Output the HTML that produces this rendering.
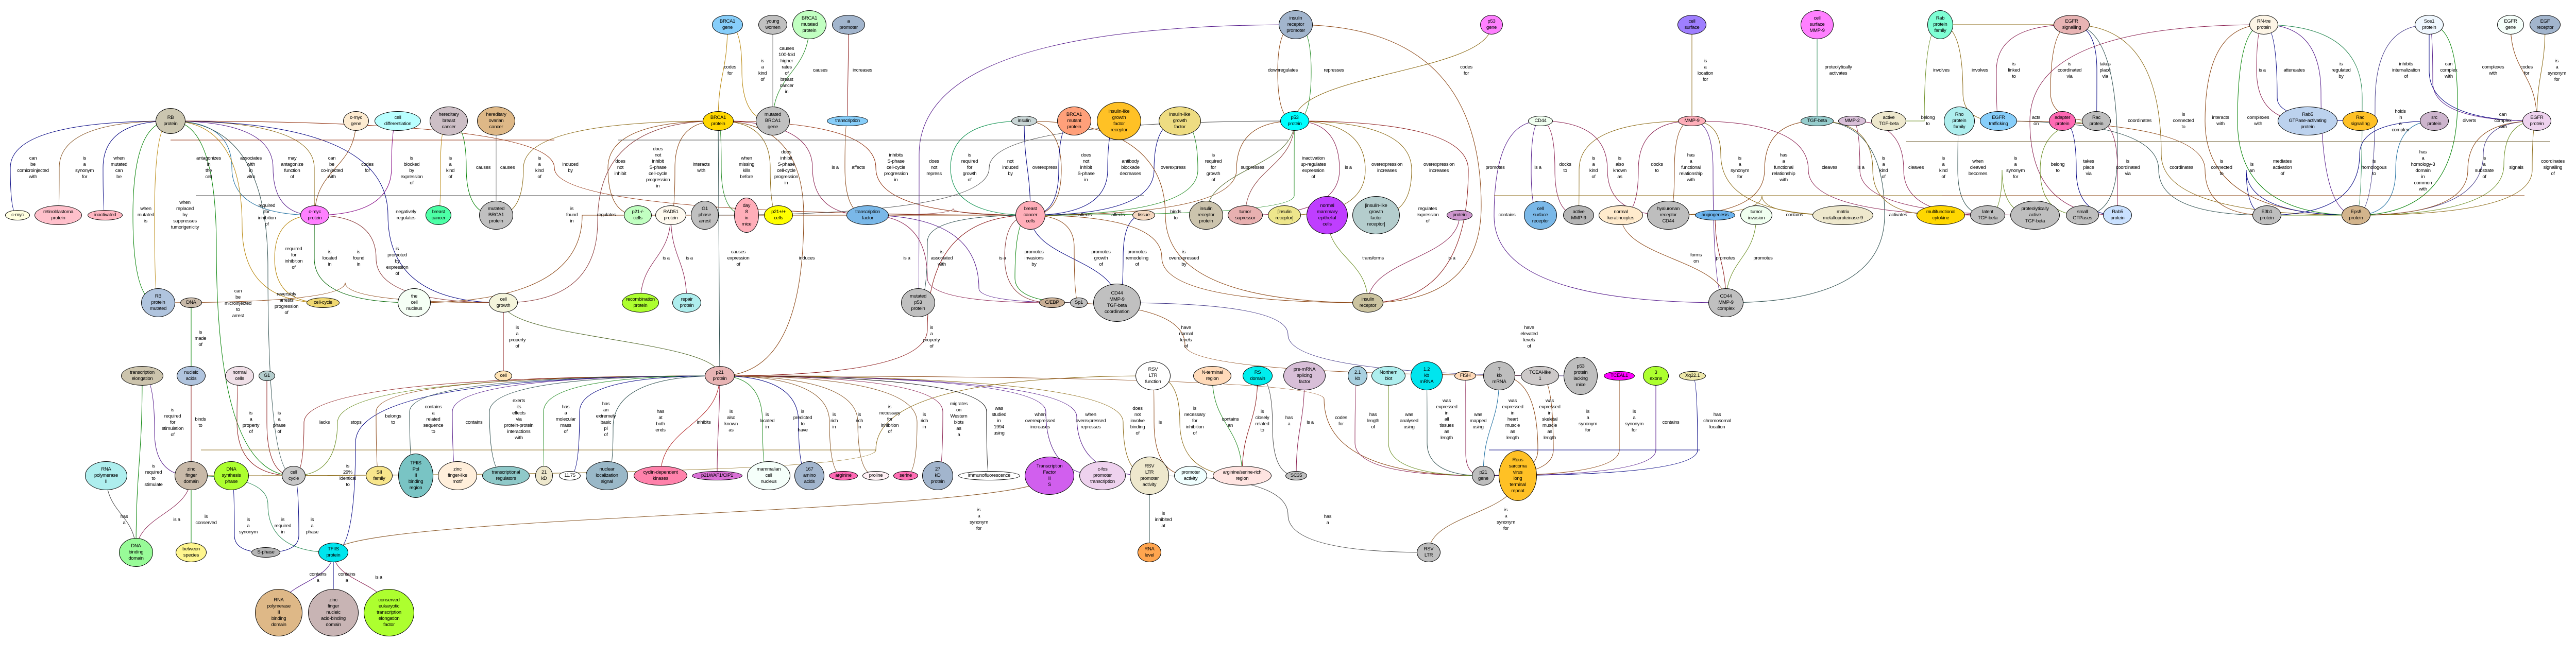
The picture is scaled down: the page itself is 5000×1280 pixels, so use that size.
<!DOCTYPE html>
<html><head><meta charset="utf-8"><style>
body{margin:0;background:#fff;width:5000px;height:1280px;overflow:hidden;position:relative;font-family:"Liberation Sans",Arial,sans-serif}
svg{position:absolute;left:0;top:0}
.n{position:absolute;left:calc(var(--x)*1px - var(--w)*1px);top:calc(var(--y)*1px - var(--h)*1px);width:calc(var(--w)*2px);height:calc(var(--h)*2px);border:1px solid #000;border-radius:50%;box-sizing:border-box;display:flex;align-items:center;justify-content:center;text-align:center;font-size:9.5px;line-height:12px;letter-spacing:-0.3px;color:#000}
.l{position:absolute;transform:translate(-50%,-50%);text-align:center;font-size:9.5px;line-height:12px;letter-spacing:-0.3px;white-space:nowrap;color:#000}
</style></head><body>
<svg id="sv" width="5000" height="1280"></svg>

<div class="n" id="rb" style="--x:331;--y:235;--w:29;--h:25;background:#cbc6b0">RB<br>protein</div>
<div class="n" id="cmycgene" style="--x:691;--y:235;--w:25;--h:19;background:#fdebd0">c-myc<br>gene</div>
<div class="n" id="celldiff" style="--x:772;--y:235;--w:45;--h:19;background:#b9ffff">cell<br>differentiation</div>
<div class="n" id="hbc" style="--x:871;--y:235;--w:37;--h:28;background:#cdbfc6">hereditary<br>breast<br>cancer</div>
<div class="n" id="hoc" style="--x:963;--y:235;--w:37;--h:28;background:#deb887">hereditary<br>ovarian<br>cancer</div>
<div class="n" id="cmyc" style="--x:34;--y:418;--w:24;--h:10;background:#ffffe0">c-myc</div>
<div class="n" id="retino" style="--x:113;--y:418;--w:46;--h:19;background:#ffc0cb">retinoblastoma<br>protein</div>
<div class="n" id="inact" style="--x:204;--y:418;--w:34;--h:10;background:#ffb6c1">inactivated</div>
<div class="n" id="cmycp" style="--x:611;--y:418;--w:28;--h:19;background:#ff80ff">c-myc<br>protein</div>
<div class="n" id="bc" style="--x:851;--y:418;--w:25;--h:19;background:#4dffa6">breast<br>cancer</div>
<div class="n" id="mbrca1p" style="--x:963;--y:418;--w:33;--h:28;background:#c0c0c0">mutated<br>BRCA1<br>protein</div>
<div class="n" id="p21cells" style="--x:1238;--y:418;--w:27;--h:19;background:#c1ffc1">p21-/-<br>cells</div>
<div class="n" id="rbm" style="--x:307;--y:588;--w:33;--h:28;background:#b0c4de">RB<br>protein<br>mutated</div>
<div class="n" id="dna" style="--x:371;--y:588;--w:21;--h:10;background:#c8b9a8">DNA</div>
<div class="n" id="cellcyc1" style="--x:627;--y:588;--w:32;--h:10;background:#f0d870">cell-cycle</div>
<div class="n" id="nucleus" style="--x:804;--y:588;--w:32;--h:28;background:#f5fff5">the<br>cell<br>nucleus</div>
<div class="n" id="cellgrowth" style="--x:977;--y:588;--w:28;--h:19;background:#f5f5dc">cell<br>growth</div>
<div class="n" id="recomb" style="--x:1243;--y:588;--w:36;--h:19;background:#adff2f">recombination<br>protein</div>
<div class="n" id="brca1gene" style="--x:1412;--y:48;--w:30;--h:19;background:#87cefa">BRCA1<br>gene</div>
<div class="n" id="youngw" style="--x:1500;--y:48;--w:28;--h:19;background:#c0c0c0">young<br>women</div>
<div class="n" id="brca1mp" style="--x:1571;--y:48;--w:33;--h:28;background:#c1ffc1">BRCA1<br>mutated<br>protein</div>
<div class="n" id="promoter" style="--x:1647;--y:48;--w:32;--h:19;background:#a2b5cd">a<br>promoter</div>
<div class="n" id="brca1p" style="--x:1394;--y:235;--w:30;--h:19;background:#ffd700">BRCA1<br>protein</div>
<div class="n" id="mbrca1g" style="--x:1500;--y:235;--w:33;--h:28;background:#c0c0c0">mutated<br>BRCA1<br>gene</div>
<div class="n" id="transcription" style="--x:1645;--y:235;--w:40;--h:10;background:#87cefa">transcription</div>
<div class="n" id="insulin" style="--x:1988;--y:235;--w:25;--h:10;background:#c9d6d6">insulin</div>
<div class="n" id="brca1mut" style="--x:2085;--y:235;--w:33;--h:28;background:#ffa07a">BRCA1<br>mutant<br>protein</div>
<div class="n" id="igfr" style="--x:2172;--y:235;--w:43;--h:37;background:#ffc125">insulin-like<br>growth<br>factor<br>receptor</div>
<div class="n" id="igf" style="--x:2290;--y:235;--w:41;--h:28;background:#eedc82">insulin-like<br>growth<br>factor</div>
<div class="n" id="p53p" style="--x:2513;--y:235;--w:28;--h:19;background:#00ffff">p53<br>protein</div>
<div class="n" id="irp" style="--x:2515;--y:48;--w:33;--h:28;background:#a2b5cd">insulin<br>receptor<br>promoter</div>
<div class="n" id="rad51" style="--x:1302;--y:418;--w:30;--h:19;background:#fffaf0">RAD51<br>protein</div>
<div class="n" id="g1arrest" style="--x:1368;--y:418;--w:27;--h:28;background:#c0c0c0">G1<br>phase<br>arrest</div>
<div class="n" id="day8" style="--x:1449;--y:418;--w:24;--h:34;background:#ffaeb9">day<br>8<br>in<br>mice</div>
<div class="n" id="p21pp" style="--x:1511;--y:418;--w:28;--h:19;background:#ffff00">p21+/+<br>cells</div>
<div class="n" id="tf" style="--x:1684;--y:418;--w:41;--h:19;background:#7ab8e8">transcription<br>factor</div>
<div class="n" id="bcc" style="--x:2000;--y:418;--w:29;--h:28;background:#ffaeb9">breast<br>cancer<br>cells</div>
<div class="n" id="tissue" style="--x:2220;--y:418;--w:22;--h:10;background:#f4d7c0">tissue</div>
<div class="n" id="irprot" style="--x:2341;--y:418;--w:33;--h:28;background:#ccc4ad">insulin<br>receptor<br>protein</div>
<div class="n" id="tumsup" style="--x:2417;--y:418;--w:34;--h:19;background:#e8b0b0">tumor<br>supressor</div>
<div class="n" id="insrec2" style="--x:2493;--y:418;--w:32;--h:19;background:#eee68c">[insulin<br>receptor]</div>
<div class="n" id="repair" style="--x:1333;--y:588;--w:28;--h:19;background:#aeeeee">repair<br>protein</div>
<div class="n" id="mp53" style="--x:1782;--y:588;--w:33;--h:28;background:#c0c0c0">mutated<br>p53<br>protein</div>
<div class="n" id="cebp" style="--x:2042;--y:588;--w:25;--h:10;background:#c8ae94">C/EBP</div>
<div class="n" id="sp1" style="--x:2094;--y:588;--w:17;--h:10;background:#c0c0c0">Sp1</div>
<div class="n" id="cd44coord" style="--x:2168;--y:588;--w:46;--h:37;background:#c0c0c0">CD44<br>MMP-9<br>TGF-beta<br>coordination</div>
<div class="n" id="p53gene" style="--x:2895;--y:48;--w:22;--h:19;background:#ff80ff">p53<br>gene</div>
<div class="n" id="cellsurf" style="--x:3284;--y:48;--w:28;--h:19;background:#9f7fff">cell<br>surface</div>
<div class="n" id="csmmp9" style="--x:3527;--y:48;--w:32;--h:28;background:#ff80ff">cell<br>surface<br>MMP-9</div>
<div class="n" id="rabfam" style="--x:3766;--y:48;--w:25;--h:28;background:#7fffd4">Rab<br>protein<br>family</div>
<div class="n" id="cd44" style="--x:2990;--y:235;--w:24;--h:10;background:#f0fff0">CD44</div>
<div class="n" id="mmp9" style="--x:3284;--y:235;--w:27;--h:10;background:#ffaeb9">MMP-9</div>
<div class="n" id="tgfb" style="--x:3527;--y:235;--w:32;--h:10;background:#96cdcd">TGF-beta</div>
<div class="n" id="mmp2" style="--x:3595;--y:235;--w:27;--h:10;background:#d8bfd8">MMP-2</div>
<div class="n" id="acttgf" style="--x:3666;--y:235;--w:34;--h:19;background:#eee8cd">active<br>TGF-beta</div>
<div class="n" id="nmec" style="--x:2576;--y:418;--w:40;--h:37;background:#bf3eff">normal<br>mammary<br>epithelial<br>cells</div>
<div class="n" id="igfr2" style="--x:2671;--y:418;--w:46;--h:37;background:#b4cdcd">[insulin-like<br>growth<br>factor<br>receptor]</div>
<div class="n" id="protein" style="--x:2833;--y:418;--w:25;--h:10;background:#cd96cd">protein</div>
<div class="n" id="csr" style="--x:2990;--y:418;--w:32;--h:28;background:#7ab8e8">cell<br>surface<br>receptor</div>
<div class="n" id="actmmp9" style="--x:3064;--y:418;--w:30;--h:19;background:#b5b5b5">active<br>MMP-9</div>
<div class="n" id="nk" style="--x:3146;--y:418;--w:43;--h:19;background:#ffebcd">normal<br>keratinocytes</div>
<div class="n" id="hrcd44" style="--x:3238;--y:418;--w:41;--h:28;background:#bebebe">hyaluronan<br>receptor<br>CD44</div>
<div class="n" id="angio" style="--x:3329;--y:418;--w:39;--h:10;background:#6cb4ee">angiogenesis</div>
<div class="n" id="tuminv" style="--x:3409;--y:418;--w:31;--h:19;background:#f0fff0">tumor<br>invasion</div>
<div class="n" id="mmp9full" style="--x:3577;--y:418;--w:59;--h:19;background:#eee8cd">matrix<br>metalloproteinase-9</div>
<div class="n" id="multicyt" style="--x:3767;--y:418;--w:47;--h:19;background:#ffd700">multifunctional<br>cytokine</div>
<div class="n" id="insrec" style="--x:2655;--y:588;--w:30;--h:19;background:#ccc4a0">insulin<br>receptor</div>
<div class="n" id="cd44cx" style="--x:3350;--y:588;--w:34;--h:28;background:#c0c0c0">CD44<br>MMP-9<br>complex</div>
<div class="n" id="egfrsig" style="--x:4021;--y:48;--w:35;--h:19;background:#e8b4b4">EGFR<br>signalling</div>
<div class="n" id="rntre" style="--x:4394;--y:48;--w:28;--h:19;background:#fdf5e6">RN-tre<br>protein</div>
<div class="n" id="sos1" style="--x:4715;--y:48;--w:28;--h:19;background:#f0f8ff">Sos1<br>protein</div>
<div class="n" id="egfrgene" style="--x:4873;--y:48;--w:26;--h:19;background:#f5fffa">EGFR<br>gene</div>
<div class="n" id="egfrec" style="--x:4940;--y:48;--w:30;--h:19;background:#a2b5cd">EGF<br>receptor</div>
<div class="n" id="rho" style="--x:3803;--y:235;--w:30;--h:28;background:#aeeeee">Rho<br>protein<br>family</div>
<div class="n" id="egfrtraf" style="--x:3879;--y:235;--w:36;--h:19;background:#87cefa">EGFR<br>trafficking</div>
<div class="n" id="adapter" style="--x:4003;--y:235;--w:26;--h:19;background:#ff69b4">adapter<br>protein</div>
<div class="n" id="rac" style="--x:4069;--y:235;--w:28;--h:19;background:#bebebe">Rac<br>protein</div>
<div class="n" id="rab5gap" style="--x:4479;--y:235;--w:58;--h:28;background:#bcd2ee">Rab5<br>GTPase-activating<br>protein</div>
<div class="n" id="racsig" style="--x:4581;--y:235;--w:34;--h:19;background:#ffc125">Rac<br>signalling</div>
<div class="n" id="src" style="--x:4725;--y:235;--w:28;--h:19;background:#cdb5cd">src<br>protein</div>
<div class="n" id="egfrp" style="--x:4924;--y:235;--w:28;--h:19;background:#eed2ee">EGFR<br>protein</div>
<div class="n" id="latent" style="--x:3858;--y:418;--w:34;--h:19;background:#bebebe">latent<br>TGF-beta</div>
<div class="n" id="proltgf" style="--x:3950;--y:418;--w:48;--h:28;background:#bebebe">proteolytically<br>active<br>TGF-beta</div>
<div class="n" id="smallg" style="--x:4042;--y:418;--w:32;--h:19;background:#bebebe">small<br>GTPases</div>
<div class="n" id="rab5" style="--x:4110;--y:418;--w:28;--h:19;background:#cae1ff">Rab5<br>protein</div>
<div class="n" id="e3b1" style="--x:4400;--y:418;--w:28;--h:19;background:#bebebe">E3b1<br>protein</div>
<div class="n" id="eps8" style="--x:4573;--y:418;--w:28;--h:19;background:#d2b48c">Eps8<br>protein</div>
<div class="n" id="cell" style="--x:977;--y:730;--w:17;--h:10;background:#ffe4b5">cell</div>
<div class="n" id="trel" style="--x:276;--y:730;--w:41;--h:19;background:#ccc4ad">transcription<br>elongation</div>
<div class="n" id="nucacid" style="--x:371;--y:730;--w:28;--h:19;background:#b0c4de">nucleic<br>acids</div>
<div class="n" id="normcells" style="--x:465;--y:730;--w:28;--h:19;background:#f0e0e8">normal<br>cells</div>
<div class="n" id="g1" style="--x:518;--y:730;--w:16;--h:10;background:#b4cdcd">G1</div>
<div class="n" id="rnapol" style="--x:206;--y:924;--w:41;--h:28;background:#aeeeee">RNA<br>polymerase<br>II</div>
<div class="n" id="zfd" style="--x:371;--y:924;--w:32;--h:28;background:#c8b9a8">zinc<br>finger<br>domain</div>
<div class="n" id="dnasyn" style="--x:449;--y:924;--w:34;--h:28;background:#adff2f">DNA<br>synthesis<br>phase</div>
<div class="n" id="cellcycle" style="--x:570;--y:924;--w:23;--h:19;background:#c8c8c8">cell<br>cycle</div>
<div class="n" id="sii" style="--x:736;--y:924;--w:26;--h:19;background:#f8e68c">SII<br>family</div>
<div class="n" id="tfiispol" style="--x:807;--y:924;--w:34;--h:43;background:#79c4c4">TFIIS<br>Pol<br>II<br>binding<br>region</div>
<div class="n" id="zflike" style="--x:888;--y:924;--w:38;--h:28;background:#ffefdb">zinc<br>finger-like<br>motif</div>
<div class="n" id="transreg" style="--x:982;--y:924;--w:46;--h:19;background:#8fc9c9">transcriptional<br>regulators</div>
<div class="n" id="kd21" style="--x:1056;--y:924;--w:17;--h:19;background:#eee8cd">21<br>kD</div>
<div class="n" id="n1175" style="--x:1106;--y:924;--w:21;--h:9;background:#fff">11.75</div>
<div class="n" id="nls" style="--x:1178;--y:924;--w:41;--h:28;background:#9ab8c8">nuclear<br>localization<br>signal</div>
<div class="n" id="cdk" style="--x:1282;--y:924;--w:52;--h:19;background:#ff82ab">cyclin-dependent<br>kinases</div>
<div class="n" id="dbd" style="--x:264;--y:1073;--w:33;--h:28;background:#98fb98">DNA<br>binding<br>domain</div>
<div class="n" id="between" style="--x:371;--y:1073;--w:30;--h:19;background:#fff68f">between<br>species</div>
<div class="n" id="sphase" style="--x:516;--y:1073;--w:28;--h:10;background:#b5b5b5">S-phase</div>
<div class="n" id="tfiis" style="--x:647;--y:1073;--w:29;--h:19;background:#00e5ee">TFIIS<br>protein</div>
<div class="n" id="rnapbd" style="--x:541;--y:1190;--w:46;--h:46;background:#deb887">RNA<br>polymerase<br>II<br>binding<br>domain</div>
<div class="n" id="zfnabd" style="--x:647;--y:1190;--w:49;--h:46;background:#c8b4b4">zinc<br>finger<br>nucleic<br>acid-binding<br>domain</div>
<div class="n" id="cetef" style="--x:755;--y:1190;--w:49;--h:46;background:#adff2f">conserved<br>eukaryotic<br>transcription<br>elongation<br>factor</div>
<div class="n" id="p21" style="--x:1397;--y:730;--w:29;--h:19;background:#e8b4b4">p21<br>protein</div>
<div class="n" id="rsvltrf" style="--x:2238;--y:730;--w:34;--h:28;background:#fff">RSV<br>LTR<br>function</div>
<div class="n" id="nterm" style="--x:2353;--y:730;--w:37;--h:19;background:#ffdab9">N-terminal<br>region</div>
<div class="n" id="rsdom" style="--x:2441;--y:730;--w:29;--h:19;background:#00eeee">RS<br>domain</div>
<div class="n" id="waf" style="--x:1392;--y:924;--w:49;--h:9;background:#da70d6">p21WAF1/CIP1</div>
<div class="n" id="mcn" style="--x:1492;--y:924;--w:42;--h:28;background:#f5fffa">mammalian<br>cell<br>nucleus</div>
<div class="n" id="aa167" style="--x:1571;--y:924;--w:29;--h:28;background:#a2b5cd">167<br>amino<br>acids</div>
<div class="n" id="arg" style="--x:1637;--y:924;--w:28;--h:9;background:#ff69b4">arginine</div>
<div class="n" id="pro" style="--x:1700;--y:924;--w:26;--h:9;background:#fff0f5">proline</div>
<div class="n" id="ser" style="--x:1758;--y:924;--w:24;--h:9;background:#ff6eb4">serine</div>
<div class="n" id="kd27" style="--x:1820;--y:924;--w:30;--h:28;background:#a2b5cd">27<br>kD<br>protein</div>
<div class="n" id="immuno" style="--x:1920;--y:924;--w:60;--h:9;background:#fff">immunofluorescence</div>
<div class="n" id="tf2s" style="--x:2037;--y:924;--w:48;--h:37;background:#d15fee">Transcription<br>Factor<br>II<br>S</div>
<div class="n" id="cfos" style="--x:2140;--y:924;--w:45;--h:28;background:#eed2ee">c-fos<br>promoter<br>transcription</div>
<div class="n" id="rsvltrpa" style="--x:2231;--y:924;--w:38;--h:37;background:#eee8cd">RSV<br>LTR<br>promoter<br>activity</div>
<div class="n" id="promact" style="--x:2311;--y:924;--w:32;--h:19;background:#f0ffff">promoter<br>activity</div>
<div class="n" id="rsrich" style="--x:2411;--y:924;--w:57;--h:19;background:#ffe4e1">arginine/serine-rich<br>region</div>
<div class="n" id="rnalevel" style="--x:2231;--y:1073;--w:23;--h:19;background:#ffa54f">RNA<br>level</div>
<div class="n" id="premrna" style="--x:2532;--y:730;--w:41;--h:28;background:#d8bfd8">pre-mRNA<br>splicing<br>factor</div>
<div class="n" id="kb21" style="--x:2635;--y:730;--w:19;--h:19;background:#a8d0e0">2.1<br>kb</div>
<div class="n" id="nblot" style="--x:2695;--y:730;--w:33;--h:19;background:#aeeeee">Northern<br>blot</div>
<div class="n" id="kb12" style="--x:2769;--y:730;--w:31;--h:28;background:#00e5ee">1.2<br>kb<br>mRNA</div>
<div class="n" id="fish" style="--x:2844;--y:730;--w:21;--h:9;background:#ffdab9">FISH</div>
<div class="n" id="kb7" style="--x:2910;--y:730;--w:31;--h:28;background:#bebebe">7<br>kb<br>mRNA</div>
<div class="n" id="tceallike" style="--x:2989;--y:730;--w:37;--h:19;background:#cdc9c9">TCEAl-like<br>1</div>
<div class="n" id="p53mice" style="--x:3068;--y:730;--w:33;--h:37;background:#bebebe">p53<br>protein<br>lacking<br>mice</div>
<div class="n" id="tceal1" style="--x:3143;--y:730;--w:30;--h:9;background:#ff00ff">TCEAL1</div>
<div class="n" id="exons3" style="--x:3214;--y:730;--w:25;--h:19;background:#adff2f">3<br>exons</div>
<div class="n" id="xq" style="--x:3285;--y:730;--w:26;--h:9;background:#eee8aa">Xq22.1</div>
<div class="n" id="sc35" style="--x:2516;--y:924;--w:21;--h:9;background:#bebebe">SC35</div>
<div class="n" id="p21gene" style="--x:2879;--y:924;--w:22;--h:19;background:#bebebe">p21<br>gene</div>
<div class="n" id="rous" style="--x:2946;--y:924;--w:37;--h:49;background:#ffc125">Rous<br>sarcoma<br>virus<br>long<br>terminal<br>repeat</div>
<div class="n" id="rsvltr" style="--x:2773;--y:1073;--w:23;--h:19;background:#bebebe">RSV<br>LTR</div>

<!-- labels -->
<div class="l" style="left:64px;top:326px">can<br>be<br>comicroinjected<br>with</div>
<div class="l" style="left:164px;top:326px">is<br>a<br>synonym<br>for</div>
<div class="l" style="left:231px;top:326px">when<br>mutated<br>can<br>be</div>
<div class="l" style="left:405px;top:326px">antagonizes<br>in<br>the<br>cell</div>
<div class="l" style="left:487px;top:326px">associates<br>with<br>in<br>vitro</div>
<div class="l" style="left:567px;top:326px">may<br>antagonize<br>function<br>of</div>
<div class="l" style="left:644px;top:326px">can<br>be<br>co-injected<br>with</div>
<div class="l" style="left:713px;top:326px">codes<br>for</div>
<div class="l" style="left:799px;top:332px">is<br>blocked<br>by<br>expression<br>of</div>
<div class="l" style="left:874px;top:326px">is<br>a<br>kind<br>of</div>
<div class="l" style="left:938px;top:326px">causes</div>
<div class="l" style="left:985px;top:326px">causes</div>
<div class="l" style="left:1047px;top:326px">is<br>a<br>kind<br>of</div>
<div class="l" style="left:1107px;top:326px">induced<br>by</div>
<div class="l" style="left:1204px;top:326px">does<br>not<br>inhibit</div>
<div class="l" style="left:283px;top:418px">when<br>mutated<br>is</div>
<div class="l" style="left:359px;top:418px">when<br>replaced<br>by<br>suppresses<br>tumorigenicity</div>
<div class="l" style="left:518px;top:418px">required<br>for<br>inhibition<br>of</div>
<div class="l" style="left:788px;top:418px">negatively<br>regulates</div>
<div class="l" style="left:1110px;top:418px">is<br>found<br>in</div>
<div class="l" style="left:1177px;top:418px">regulates</div>
<div class="l" style="left:570px;top:502px">required<br>for<br>inhibition<br>of</div>
<div class="l" style="left:640px;top:502px">is<br>located<br>in</div>
<div class="l" style="left:696px;top:502px">is<br>found<br>in</div>
<div class="l" style="left:771px;top:508px">is<br>promoted<br>by<br>expression<br>of</div>
<div class="l" style="left:462px;top:590px">can<br>be<br>microinjected<br>to<br>arrest</div>
<div class="l" style="left:556px;top:590px">reversibly<br>arrests<br>progression<br>of</div>
<div class="l" style="left:1004px;top:655px">is<br>a<br>property<br>of</div>
<div class="l" style="left:389px;top:658px">is<br>made<br>of</div>
<div class="l" style="left:335px;top:821px">is<br>required<br>for<br>stimulation<br>of</div>
<div class="l" style="left:389px;top:821px">binds<br>to</div>
<div class="l" style="left:487px;top:821px">is<br>a<br>property<br>of</div>
<div class="l" style="left:542px;top:821px">is<br>a<br>phase<br>of</div>
<div class="l" style="left:630px;top:821px">lacks</div>
<div class="l" style="left:691px;top:821px">stops</div>
<div class="l" style="left:763px;top:815px">belongs<br>to</div>
<div class="l" style="left:841px;top:815px">contains<br>a<br>related<br>sequence<br>to</div>
<div class="l" style="left:920px;top:821px">contains</div>
<div class="l" style="left:1007px;top:815px">exerts<br>its<br>effects<br>via<br>protein-protein<br>interactions<br>with</div>
<div class="l" style="left:1098px;top:815px">has<br>a<br>molecular<br>mass<br>of</div>
<div class="l" style="left:1176px;top:815px">has<br>an<br>extremely<br>basic<br>pI<br>of</div>
<div class="l" style="left:298px;top:924px">is<br>required<br>to<br>stimulate</div>
<div class="l" style="left:675px;top:924px">is<br>29%<br>identical<br>to</div>
<div class="l" style="left:241px;top:1010px">has<br>a</div>
<div class="l" style="left:343px;top:1010px">is a</div>
<div class="l" style="left:400px;top:1010px">is<br>conserved</div>
<div class="l" style="left:482px;top:1022px">is<br>a<br>synonym</div>
<div class="l" style="left:549px;top:1022px">is<br>required<br>in</div>
<div class="l" style="left:606px;top:1022px">is<br>a<br>phase</div>
<div class="l" style="left:617px;top:1122px">contains<br>a</div>
<div class="l" style="left:673px;top:1122px">contains<br>a</div>
<div class="l" style="left:735px;top:1122px">is a</div>
<div class="l" style="left:1900px;top:1009px">is<br>a<br>synonym<br>for</div>
<div class="l" style="left:1282px;top:818px">has<br>at<br>both<br>ends</div>
<div class="l" style="left:1366px;top:821px">inhibits</div>
<div class="l" style="left:1419px;top:818px">is<br>also<br>known<br>as</div>
<div class="l" style="left:1489px;top:818px">is<br>located<br>in</div>
<div class="l" style="left:1558px;top:818px">is<br>predicted<br>to<br>have</div>
<div class="l" style="left:1619px;top:818px">is<br>rich<br>in</div>
<div class="l" style="left:1668px;top:818px">is<br>rich<br>in</div>
<div class="l" style="left:1727px;top:815px">is<br>necessary<br>for<br>inhibition<br>of</div>
<div class="l" style="left:1794px;top:818px">is<br>rich<br>in</div>
<div class="l" style="left:1861px;top:815px">migrates<br>on<br>Western<br>blots<br>as<br>a</div>
<div class="l" style="left:1939px;top:818px">was<br>studied<br>in<br>1994<br>using</div>
<div class="l" style="left:2019px;top:818px">when<br>overexpressed<br>increases</div>
<div class="l" style="left:2117px;top:818px">when<br>overexpressed<br>represses</div>
<div class="l" style="left:2208px;top:818px">does<br>not<br>involve<br>binding<br>of</div>
<div class="l" style="left:2252px;top:821px">is</div>
<div class="l" style="left:2319px;top:818px">is<br>necessary<br>for<br>inhibition<br>of</div>
<div class="l" style="left:2388px;top:821px">contains<br>an</div>
<div class="l" style="left:2450px;top:818px">is<br>closely<br>related<br>to</div>
<div class="l" style="left:1808px;top:655px">is<br>a<br>property<br>of</div>
<div class="l" style="left:2302px;top:655px">have<br>normal<br>levels<br>of</div>
<div class="l" style="left:2258px;top:1010px">is<br>inhibited<br>at</div>
<div class="l" style="left:2577px;top:1010px">has<br>a</div>
<div class="l" style="left:2968px;top:655px">have<br>elevated<br>levels<br>of</div>
<div class="l" style="left:2502px;top:818px">has<br>a</div>
<div class="l" style="left:2543px;top:821px">is a</div>
<div class="l" style="left:2603px;top:818px">codes<br>for</div>
<div class="l" style="left:2665px;top:818px">has<br>length<br>of</div>
<div class="l" style="left:2735px;top:818px">was<br>analysed<br>using</div>
<div class="l" style="left:2808px;top:815px">was<br>expressed<br>in<br>all<br>tissues<br>as<br>length</div>
<div class="l" style="left:2869px;top:818px">was<br>mapped<br>using</div>
<div class="l" style="left:2936px;top:815px">was<br>expressed<br>in<br>heart<br>muscle<br>as<br>length</div>
<div class="l" style="left:3008px;top:815px">was<br>expressed<br>in<br>skeletal<br>muscle<br>as<br>length</div>
<div class="l" style="left:3082px;top:818px">is<br>a<br>synonym<br>for</div>
<div class="l" style="left:3172px;top:818px">is<br>a<br>synonym<br>for</div>
<div class="l" style="left:3243px;top:821px">contains</div>
<div class="l" style="left:3333px;top:818px">has<br>chromosomal<br>location</div>
<div class="l" style="left:2923px;top:1009px">is<br>a<br>synonym<br>for</div>
<div class="l" style="left:1417px;top:137px">codes<br>for</div>
<div class="l" style="left:1480px;top:137px">is<br>a<br>kind<br>of</div>
<div class="l" style="left:1527px;top:137px">causes<br>100-fold<br>higher<br>rates<br>of<br>breast<br>cancer<br>in</div>
<div class="l" style="left:1592px;top:137px">causes</div>
<div class="l" style="left:1674px;top:137px">increases</div>
<div class="l" style="left:1277px;top:326px">does<br>not<br>inhibit<br>S-phase<br>cell-cycle<br>progression<br>in</div>
<div class="l" style="left:1361px;top:326px">interacts<br>with</div>
<div class="l" style="left:1449px;top:326px">when<br>missing<br>kills<br>before</div>
<div class="l" style="left:1526px;top:326px">does<br>inhibit<br>S-phase<br>cell-cycle<br>progression<br>in</div>
<div class="l" style="left:1621px;top:326px">is a</div>
<div class="l" style="left:1666px;top:326px">affects</div>
<div class="l" style="left:1739px;top:326px">inhibits<br>S-phase<br>cell-cycle<br>progression<br>in</div>
<div class="l" style="left:1813px;top:326px">does<br>not<br>repress</div>
<div class="l" style="left:1882px;top:326px">is<br>required<br>for<br>growth<br>of</div>
<div class="l" style="left:1961px;top:326px">not<br>induced<br>by</div>
<div class="l" style="left:2028px;top:326px">overexpress</div>
<div class="l" style="left:2108px;top:326px">does<br>not<br>inhibit<br>S-phase<br>in</div>
<div class="l" style="left:2194px;top:326px">antibody<br>blockade<br>decreases</div>
<div class="l" style="left:2277px;top:326px">overexpress</div>
<div class="l" style="left:2355px;top:326px">is<br>required<br>for<br>growth<br>of</div>
<div class="l" style="left:2431px;top:326px">suppresses</div>
<div class="l" style="left:2106px;top:418px">affects</div>
<div class="l" style="left:2170px;top:418px">affects</div>
<div class="l" style="left:2282px;top:418px">binds<br>to</div>
<div class="l" style="left:1293px;top:502px">is a</div>
<div class="l" style="left:1338px;top:502px">is a</div>
<div class="l" style="left:1433px;top:502px">causes<br>expression<br>of</div>
<div class="l" style="left:1566px;top:502px">induces</div>
<div class="l" style="left:1760px;top:502px">is a</div>
<div class="l" style="left:1828px;top:502px">is<br>associated<br>with</div>
<div class="l" style="left:1946px;top:502px">is a</div>
<div class="l" style="left:2007px;top:502px">promotes<br>invasions<br>by</div>
<div class="l" style="left:2137px;top:502px">promotes<br>growth<br>of</div>
<div class="l" style="left:2207px;top:502px">promotes<br>remodeling<br>of</div>
<div class="l" style="left:2298px;top:502px">is<br>overexpressed<br>by</div>
<div class="l" style="left:2490px;top:137px">downregulates</div>
<div class="l" style="left:2589px;top:137px">represses</div>
<div class="l" style="left:2846px;top:137px">codes<br>for</div>
<div class="l" style="left:2549px;top:326px">inactivation<br>up-regulates<br>expression<br>of</div>
<div class="l" style="left:2617px;top:326px">is a</div>
<div class="l" style="left:2692px;top:326px">overexpression<br>increases</div>
<div class="l" style="left:2793px;top:326px">overexpression<br>increases</div>
<div class="l" style="left:2902px;top:326px">promotes</div>
<div class="l" style="left:2771px;top:418px">regulates<br>expression<br>of</div>
<div class="l" style="left:2665px;top:502px">transforms</div>
<div class="l" style="left:2818px;top:502px">is a</div>
<div class="l" style="left:2925px;top:418px">contains</div>
<div class="l" style="left:2985px;top:326px">is a</div>
<div class="l" style="left:3038px;top:326px">docks<br>to</div>
<div class="l" style="left:3093px;top:326px">is<br>a<br>kind<br>of</div>
<div class="l" style="left:3144px;top:326px">is<br>also<br>known<br>as</div>
<div class="l" style="left:3216px;top:326px">docks<br>to</div>
<div class="l" style="left:3282px;top:326px">has<br>a<br>functional<br>relationship<br>with</div>
<div class="l" style="left:3377px;top:326px">is<br>a<br>synonym<br>for</div>
<div class="l" style="left:3462px;top:326px">has<br>a<br>functional<br>relationship<br>with</div>
<div class="l" style="left:3551px;top:326px">cleaves</div>
<div class="l" style="left:3612px;top:326px">is a</div>
<div class="l" style="left:3656px;top:326px">is<br>a<br>kind<br>of</div>
<div class="l" style="left:3719px;top:326px">cleaves</div>
<div class="l" style="left:3310px;top:137px">is<br>a<br>location<br>for</div>
<div class="l" style="left:3568px;top:137px">proteolytically<br>activates</div>
<div class="l" style="left:3292px;top:502px">forms<br>on</div>
<div class="l" style="left:3349px;top:502px">promotes</div>
<div class="l" style="left:3422px;top:502px">promotes</div>
<div class="l" style="left:3483px;top:418px">contains</div>
<div class="l" style="left:3684px;top:418px">activates</div>
<div class="l" style="left:3742px;top:235px">belong<br>to</div>
<div class="l" style="left:3768px;top:137px">involves</div>
<div class="l" style="left:3843px;top:137px">involves</div>
<div class="l" style="left:3909px;top:137px">is<br>linked<br>to</div>
<div class="l" style="left:4017px;top:137px">is<br>coordinated<br>via</div>
<div class="l" style="left:4086px;top:137px">takes<br>place<br>via</div>
<div class="l" style="left:4391px;top:137px">is a</div>
<div class="l" style="left:4453px;top:137px">attenuates</div>
<div class="l" style="left:4544px;top:137px">is<br>regulated<br>by</div>
<div class="l" style="left:4670px;top:137px">inhibits<br>internalization<br>of</div>
<div class="l" style="left:4753px;top:137px">can<br>complex<br>with</div>
<div class="l" style="left:4839px;top:137px">complexes<br>with</div>
<div class="l" style="left:4904px;top:137px">codes<br>for</div>
<div class="l" style="left:4963px;top:137px">is<br>a<br>synonym<br>for</div>
<div class="l" style="left:3952px;top:235px">acts<br>on</div>
<div class="l" style="left:4153px;top:235px">coordinates</div>
<div class="l" style="left:4238px;top:235px">is<br>connected<br>to</div>
<div class="l" style="left:4310px;top:235px">interacts<br>with</div>
<div class="l" style="left:4383px;top:235px">complexes<br>with</div>
<div class="l" style="left:4659px;top:235px">holds<br>in<br>a<br>complex</div>
<div class="l" style="left:4793px;top:235px">diverts</div>
<div class="l" style="left:4858px;top:235px">can<br>complex<br>with</div>
<div class="l" style="left:3772px;top:326px">is<br>a<br>kind<br>of</div>
<div class="l" style="left:3839px;top:326px">when<br>cleaved<br>becomes</div>
<div class="l" style="left:3912px;top:326px">is<br>a<br>synonym<br>for</div>
<div class="l" style="left:3994px;top:326px">belong<br>to</div>
<div class="l" style="left:4054px;top:326px">takes<br>place<br>via</div>
<div class="l" style="left:4130px;top:326px">is<br>coordinated<br>via</div>
<div class="l" style="left:4234px;top:326px">coordinates</div>
<div class="l" style="left:4312px;top:326px">is<br>connected<br>to</div>
<div class="l" style="left:4371px;top:326px">is<br>an</div>
<div class="l" style="left:4430px;top:326px">mediates<br>activation<br>of</div>
<div class="l" style="left:4608px;top:326px">is<br>homologous<br>to</div>
<div class="l" style="left:4703px;top:332px">has<br>a<br>homology-3<br>domain<br>in<br>common<br>with</div>
<div class="l" style="left:4822px;top:326px">is<br>a<br>substrate<br>of</div>
<div class="l" style="left:4884px;top:326px">signals</div>
<div class="l" style="left:4955px;top:326px">coordinates<br>signalling<br>of</div>

<script>
var E=[
["rb","cmyc","#000080",20,326],["rb","retino","#8b5a2b",115,326],["rb","inact","#000080",200,326],
["rb","rbm","#008000",258,418],["rb","rbm","#b8860b",300,418],["rb","cmycp","#1e6ea0",450,326],
["rb","cmycp","#551a8b",530,326],["rb","cmycp","#8b6914",610,326],["cmycgene","cmycp","#8b4513"],
["celldiff","cmycp","#800080",760,326],["rb","cellgrowth","#000080",753,418],["hbc","bc","#b8860b",855,326],
["hbc","mbrca1p","#008000",905,326],["hoc","mbrca1p","#808080"],["mbrca1p","brca1p","#8b6914",1016,326],
["rb","bcc","#8b2500",1076,326],["brca1p","p21cells","#8b4513",1180,326],["rb","cellcyc1","#b8860b",470,440],
["cmycp","cellcyc1","#b8860b",533,502],["cmycp","nucleus","#006400",610,502],["cmycp","cellgrowth","#8b3a3a",730,502],
["bcc","nucleus","#8b4513",1130,418],["brca1p","cellgrowth","#8b3a3a",1160,430],["cellgrowth","cell","#8b1a1a"],
["cellgrowth","p21","#556b2f"],["rb","cellcycle","#008000",420,480],["rb","cellcycle","#2f4f4f",520,520],
["rbm","cellgrowth","#8b4513",670,549],
["brca1gene","brca1p","#b8860b"],["brca1gene","mbrca1g","#b8860b",1440,137],["youngw","mbrca1g","#808080"],
["brca1mp","mbrca1g","#228b22"],["promoter","transcription","#8b1a1a"],["brca1p","rad51","#8b4513",1310,326],
["brca1p","day8","#228b22",1400,326],["brca1p","p21pp","#8b6914",1495,326],["brca1p","tf","#8b2252",1577,326],
["brca1p","p21","#2f4f4f"],["brca1p","p21","#8b4513",1560,420],["transcription","tf","#8b4513",1640,326],
["brca1p","bcc","#8b2500",1700,326],["mp53","irp","#551a8b",1784,300],["insulin","bcc","#008b45",1845,326],
["insulin","bcc","#000080"],["g1arrest","p53p","#4a4a4a",1920,326],["insulin","bcc","#8b4513",2060,330],
["brca1mut","bcc","#000080",2055,330],["igfr","bcc","#000080",2150,330],["igf","bcc","#000080",2240,330],
["igf","bcc","#228b22",2325,330],["p53p","bcc","#8b4513",2400,330],["tf","bcc","#8b3a3a",1850,405],
["rad51","recomb","#8b2252"],["rad51","repair","#8b2252"],["mp53","bcc","#2f4f4f",1800,470],
["cebp","bcc","#8b3a3a",1950,500],["bcc","sp1","#008000",1970,540],["bcc","cd44coord","#000080"],
["sp1","bcc","#8b4513",2085,480],["tissue","cd44coord","#000080",2180,500],["bcc","insrec","#8b4513",2255,500],
["insulin","insrec","#8b4513",2262,418],["tf","cebp","#8b2252",1800,540],["tf","sp1","#551a8b",1900,560],
["irprot","p53p","#556b2f"],["tumsup","p53p","#8b3a3a"],["cebp","p53mice","#8b4513",2300,670],
["cd44coord","p53mice","#483d8b",2500,650],
["irp","p53p","#228b22",2545,140],["irp","p53p","#8b4513",2480,140],["irp","insrec","#8b4513",2875,400],
["p53gene","p53p","#8b6914"],["p53p","bcc","#228b22",2512,380],["p53p","tumsup","#8b2252",2600,330],
["p53p","insrec2","#8b6914",2650,330],["p53p","igfr2","#8b6914",2740,330],["p53p","insrec","#8b1a1a",2850,330],
["nmec","insrec","#6b8e23"],["protein","insrec","#8b2252"],["cd44","csr","#551a8b",2972,330],
["cd44","actmmp9","#8b2252",3018,330],["mmp9","actmmp9","#8b6914",3065,330],["cd44","hrcd44","#8b2252",3120,330],
["mmp9","nk","#8b2252",3180,330],["mmp9","hrcd44","#8b4513",3250,330],["mmp9","cd44cx","#551a8b",3325,330],
["mmp9","mmp9full","#8b6914",3340,300],["tgfb","hrcd44","#8b4513",3425,330],["mmp9","latent","#8b2252",3510,330],
["tgfb","cd44cx","#2f4f4f",3658,418],["mmp2","proltgf","#8b2252",3610,330],["tgfb","multicyt","#8b6914",3635,330],
["mmp2","latent","#8b2252",3695,330],["cellsurf","mmp9","#8b6914"],["csmmp9","tgfb","#2e8b57"],
["cd44","cd44cx","#551a8b",2900,420],["nk","cd44cx","#8b4513"],["angio","cd44cx","#8b1a1a"],["tuminv","cd44cx","#6b8e23"],
["hrcd44","mmp9full","#8b6914",3420,380],
["egfrsig","rabfam","#8b6914"],["rabfam","egfrtraf","#8b6914",3810,180],["acttgf","rabfam","#6b8e23",3735,235],
["egfrsig","egfrtraf","#8b2252",3875,137],["egfrsig","rac","#8b4513",3980,180],["egfrsig","rac","#000080",4070,137],
["egfrsig","eps8","#8b6914",4195,300],["egfrsig","smallg","#2f4f4f",4110,300],["rntre","rab5","#8b2252",3940,235],
["rntre","eps8","#8b4513",4280,235],["rntre","eps8","#008000",4343,235],["rntre","rab5gap","#8b2252",4380,137],
["rntre","racsig","#000080",4420,190],["rntre","eps8","#551a8b",4505,180],["rntre","eps8","#2e8b57",4585,190],
["sos1","eps8","#483d8b",4610,200],["sos1","egfrp","#000080",4715,137],["sos1","egfrp","#551a8b",4722,160],
["sos1","eps8","#008000",4770,200],["egfrgene","egfrp","#8b4513"],["egfrec","egfrp","#8b6914"],
["egfrp","eps8","#483d8b",4820,300],["egfrp","eps8","#6b8e23",4860,320],["egfrp","eps8","#8b6914",4915,330],
["egfrp","eps8","#8b4513",4790,330],["src","eps8","#1e6ea0",4650,330],["src","e3b1","#000080",4580,300],
["rho","latent","#2f4f4f",3800,330],["latent","proltgf","#6b8e23",3886,330],["rac","smallg","#6b8e23",3960,330],
["adapter","rab5","#000080",4030,330],["rac","rab5","#8b2252",4110,330],["egfrtraf","e3b1","#2f4f4f",4190,330],
["egfrtraf","e3b1","#8b4513",4280,330],["e3b1","eps8","#000080",4360,330],["e3b1","eps8","#6b8e23"],
["dna","nucacid","#008000"],["trel","zfd","#551a8b",300,840],["nucacid","zfd","#8b1a1a"],
["normcells","cellcycle","#8b1a1a",460,820],["g1","cellcycle","#8b1a1a",518,820],["p21","cellcycle","#8b1a1a",590,821],
["p21","cellcycle","#6b8e23",655,821],["p21","tfiis","#000080",690,860],["p21","sii","#8b4513",730,800],
["p21","tfiispol","#2f4f4f",795,800],["p21","zflike","#551a8b",878,800],["p21","transreg","#2f4f4f",950,800],
["p21","kd21","#228b22",1055,800],["p21","n1175","#000080",1125,800],["p21","nls","#2f4f4f",1190,830],
["rsvltrf","zfd","#8b6914",1700,874],["rnapol","dbd","#4a4a4a"],["trel","dbd","#008000"],["zfd","dbd","#8b2252"],
["zfd","between","#008000"],["dnasyn","sphase","#000080",455,1040],["zfd","tfiis","#2e8b57",520,980],
["cellcycle","sphase","#000080",580,1040],["tfiis","rnapbd","#551a8b"],["tfiis","zfnabd","#000080"],
["tfiis","cetef","#8b2252"],["tfiis","tf2s","#8b5a2b"],
["p21","cdk","#b22222"],["p21","waf","#8b2252"],["p21","mcn","#228b22",1480,820],["p21","aa167","#000080",1550,820],
["p21","arg","#8b5a2b",1610,820],["p21","pro","#8b5a2b",1665,820],["p21","ser","#8b5a2b",1780,820],
["p21","kd27","#8b2252",1830,800],["p21","immuno","#000",1915,800],["p21","cfos","#551a8b",2030,800],
["p21","rsvltrpa","#551a8b",2090,810],["p21","rsvltrpa","#8b6914",2180,820],["rsvltrf","promact","#8b4513",2240,820],
["rsvltrf","rsrich","#8b6914",2290,820],["nterm","rsrich","#228b22"],["rsdom","rsrich","#8b1a1a"],
["rsdom","sc35","#4a4a4a",2470,830],["rsvltrpa","rnalevel","#2f4f4f"],["rsvltrpa","rsvltr","#4a4a4a",2500,1000],
["rous","rsvltr","#8b5a2b"],["bcc","p21","#8b1a1a",1800,640],["p21","p21gene","#8b4513",2570,775],
["premrna","sc35","#8b2252"],["kb21","p21gene","#8b2252",2630,860],["nblot","p21gene","#6b8e23",2695,860],
["kb12","p21gene","#2f4f4f",2770,860],["fish","p21gene","#8b2252",2845,880],["kb7","p21gene","#1e6ea0"],
["kb7","p21gene","#8b4513",2985,874],["tceallike","p21gene","#8b4513",3015,874],["tceal1","p21gene","#8b4513",3143,874],
["exons3","p21gene","#551a8b",3214,874],["xq","p21gene","#000080",3295,874]
];
function c(id){var e=document.getElementById(id).getBoundingClientRect();return[e.left+e.width/2,e.top+e.height/2];}
var s="";
E.forEach(function(d){var a=c(d[0]),b=c(d[1]),p;
if(d.length>3){p="M"+a[0]+" "+a[1]+" Q"+d[3]+" "+a[1]+" "+d[3]+" "+d[4]+" Q"+d[3]+" "+b[1]+" "+b[0]+" "+b[1];}
else{var m=(a[1]+b[1])/2;p="M"+a[0]+" "+a[1]+" C"+a[0]+" "+m+" "+b[0]+" "+m+" "+b[0]+" "+b[1];}
s+='<path d="'+p+'" fill="none" stroke="'+d[2]+'" stroke-width="1"/>';});
s+='<path d="M380 380 H2220" fill="none" stroke="#4a4a4a" stroke-width="1"/>';
s+='<path d="M331 272 H1076" fill="none" stroke="#8b2500" stroke-width="1"/>';
s+='<path d="M1200 272 H2500" fill="none" stroke="#4a4a4a" stroke-width="1"/>';
s+='<path d="M390 874 H1700" fill="none" stroke="#8b6914" stroke-width="1"/>';
s+='<path d="M2890 874 H3300" fill="none" stroke="#000080" stroke-width="1"/>';
s+='<path d="M3700 275 H4950" fill="none" stroke="#6b5a2b" stroke-width="1"/>';
s+='<path d="M3700 380 H4900" fill="none" stroke="#8b4513" stroke-width="1"/>';
s+='<path d="M2900 380 H3770" fill="none" stroke="#8b6914" stroke-width="1"/>';
document.getElementById("sv").innerHTML=s;
</script>
</body></html>
